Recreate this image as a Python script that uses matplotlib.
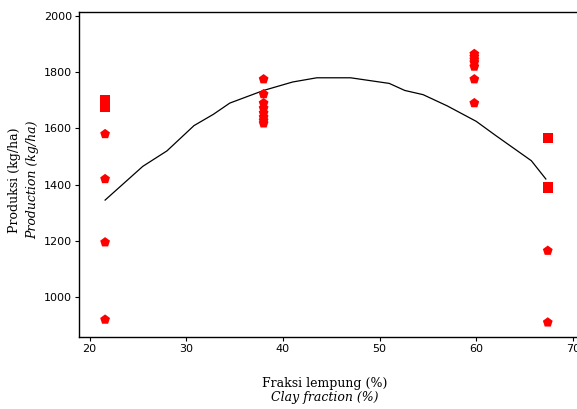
import matplotlib.pyplot as plt
import numpy as np

# observed points, grouped by clay fraction
clay_a = 21.6
prod_a = [1700, 1675, 1580, 1420, 1195, 920]
clay_b = 38.0
prod_b = [1775, 1722, 1690, 1672, 1655, 1640, 1628, 1618]
clay_c = 59.8
prod_c = [1865, 1855, 1845, 1835, 1820, 1775, 1690]
clay_d = 67.4
prod_d = [1565, 1390, 1165, 910]

# fitted curve
fit_x = [21.6, 25.5, 28.0, 30.8, 32.8, 34.5, 38.0, 41.0, 43.5, 47.0,
         51.0, 52.6, 54.5, 57.0, 60.0, 62.0, 65.7, 67.2]
fit_y = [1345, 1465, 1520, 1610, 1650, 1690, 1735, 1765, 1780, 1780,
         1760, 1735, 1720, 1680, 1625, 1575, 1485, 1420]

x_ticks = [20, 30, 40, 50, 60, 70]
y_ticks = [1000, 1200, 1400, 1600, 1800, 2000]

fig = plt.figure(figsize=(5.77, 4.09), dpi=100)
ax = fig.add_axes([79 / 577, 72 / 409, 520 / 577, 325 / 409])

ax.plot(fit_x, fit_y, color="black", lw=0.9, zorder=2)

groups = [(clay_a, prod_a[:2], "s"), (clay_a, prod_a[2:], "p"),
          (clay_b, prod_b, "p"), (clay_c, prod_c, "p"),
          (clay_d, prod_d[:2], "s"), (clay_d, prod_d[2:], "p")]
for cx, vals, mk in groups:
    ax.scatter(np.full(len(vals), cx), vals, marker=mk, s=55, color="#ff0000",
               edgecolors="none", zorder=3)

ax.set_xlim(18.9, 72.7)
ax.set_ylim(858, 2014)
ax.set_xticks(x_ticks)
ax.set_yticks(y_ticks)
ax.tick_params(direction="out", length=3, width=0.8, labelsize=8, pad=2)
for s in ["left", "bottom", "top"]:
    ax.spines[s].set_linewidth(1.0)
ax.spines["right"].set_visible(False)

fig.text(325 / 577, 1 - 383 / 409, "Fraksi lempung (%)", ha="center", va="center",
         family="DejaVu Serif", fontsize=9)
fig.text(325 / 577, 1 - 398 / 409, "Clay fraction (%)", ha="center", va="center",
         family="DejaVu Serif", style="italic", fontsize=9)
fig.text(15 / 577, 1 - 180 / 409, "Produksi (kg/ha)", ha="center", va="center",
         rotation=90, family="DejaVu Serif", fontsize=9)
fig.text(33 / 577, 1 - 180 / 409, "Production (kg/ha)", ha="center", va="center",
         rotation=90, family="DejaVu Serif", style="italic", fontsize=9)

fig.savefig("out.png", dpi=100)
